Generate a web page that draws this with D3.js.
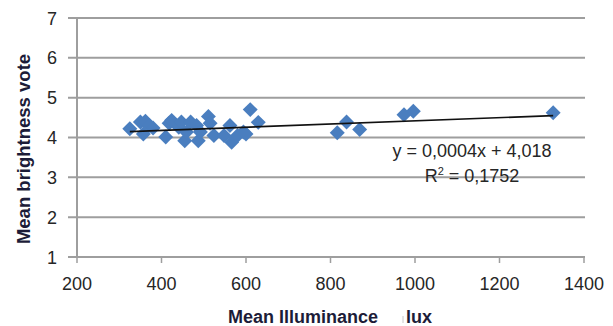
<!DOCTYPE html>
<html>
<head>
<meta charset="utf-8">
<script src="https://cdn.jsdelivr.net/npm/d3@7"></script>
<style>
body { margin: 0; background: #fff; }
svg text { font-family: "Liberation Sans", Arial, sans-serif; }
</style>
</head>
<body>
<svg id="chart" width="613" height="326"></svg>
<script>
// illuminance (lux) and mean brightness vote
const lux = [325, 350, 362, 357, 371, 380, 410, 418, 424, 441, 447, 455, 459, 469, 483, 487, 492,
             511, 515, 524, 548, 562, 566, 580, 594, 600, 610, 629, 816, 838, 869, 974, 996, 1327];
const vote = [4.22, 4.39, 4.41, 4.09, 4.30, 4.24, 4.01, 4.36, 4.43, 4.26, 4.39, 3.92, 4.14, 4.39, 4.30, 3.92, 4.14,
              4.53, 4.36, 4.05, 4.05, 4.30, 3.88, 4.05, 4.14, 4.09, 4.70, 4.38, 4.12, 4.39, 4.20, 4.57, 4.66, 4.62];
const xTicks = [200, 400, 600, 800, 1000, 1200, 1400];
const yTicks = [1, 2, 3, 4, 5, 6, 7];
const slope = 0.0004, intercept = 4.018;

const svg = d3.select("#chart");
const x = d3.scaleLinear().domain([200, 1400]).range([77, 584]);
const y = d3.scaleLinear().domain([1, 7]).range([257, 18]);

// horizontal grid
svg.append("g").selectAll("line").data(yTicks).enter().append("line")
    .attr("x1", 68).attr("x2", 585)
    .attr("y1", d => y(d)).attr("y2", d => y(d))
    .attr("stroke", "#9e9e9e").attr("stroke-width", 2);

// y axis line
svg.append("line").attr("x1", 77).attr("x2", 77).attr("y1", y(7)).attr("y2", y(1))
    .attr("stroke", "#9e9e9e").attr("stroke-width", 2);

// x axis ticks
svg.append("g").selectAll("line").data(xTicks).enter().append("line")
    .attr("x1", d => x(d)).attr("x2", d => x(d))
    .attr("y1", y(1)).attr("y2", y(1) + 6)
    .attr("stroke", "#9e9e9e").attr("stroke-width", 1.5);

svg.append("g").selectAll("text").data(xTicks).enter().append("text")
    .attr("x", d => x(d)).attr("y", 290)
    .attr("text-anchor", "middle").attr("font-size", 18).attr("fill", "#262626")
    .text(d => d);

svg.append("g").selectAll("text").data(yTicks).enter().append("text")
    .attr("x", 57).attr("y", d => y(d) + 6.5)
    .attr("text-anchor", "end").attr("font-size", 18).attr("fill", "#262626")
    .text(d => d);

// points
const pts = lux.map((v, i) => ({ x: v, y: vote[i] }));
svg.append("g").selectAll("path").data(pts).enter().append("path")
    .attr("d", d3.symbol(d3.symbolSquare, 112)())
    .attr("transform", d => `translate(${x(d.x)},${y(d.y)}) rotate(45)`)
    .attr("fill", "#4a7ebf");

// trend line
const xMin = d3.min(lux), xMax = d3.max(lux);
svg.append("line")
    .attr("x1", x(xMin)).attr("y1", y(slope * xMin + intercept))
    .attr("x2", x(xMax)).attr("y2", y(slope * xMax + intercept))
    .attr("stroke", "#111").attr("stroke-width", 1.6);

// equation
svg.append("text").attr("x", 472).attr("y", 157).attr("text-anchor", "middle")
    .attr("font-size", 18).attr("fill", "#262626")
    .text("y = 0,0004x + 4,018");
const r2 = svg.append("text").attr("x", 472).attr("y", 182).attr("text-anchor", "middle")
    .attr("font-size", 18).attr("fill", "#262626");
r2.append("tspan").text("R");
r2.append("tspan").attr("dy", -7).attr("font-size", 11).text("2");
r2.append("tspan").attr("dy", 7).text(" = 0,1752");

// axis titles
svg.append("text").attr("transform", "translate(30,149) rotate(-90)")
    .attr("text-anchor", "middle").attr("font-size", 18.5).attr("font-weight", "bold")
    .attr("fill", "#1c1c38").text("Mean brightness vote");

svg.append("text").attr("x", 228).attr("y", 323)
    .attr("font-size", 18).attr("font-weight", "bold").attr("fill", "#1c1c38")
    .text("Mean Illuminance");
svg.append("line").attr("x1", 403).attr("x2", 403).attr("y1", 316).attr("y2", 323)
    .attr("stroke", "#c8c8c8").attr("stroke-width", 1);
svg.append("text").attr("x", 406).attr("y", 323)
    .attr("font-size", 18).attr("font-weight", "bold").attr("fill", "#1c1c38")
    .text("lux");
</script>
</body>
</html>
